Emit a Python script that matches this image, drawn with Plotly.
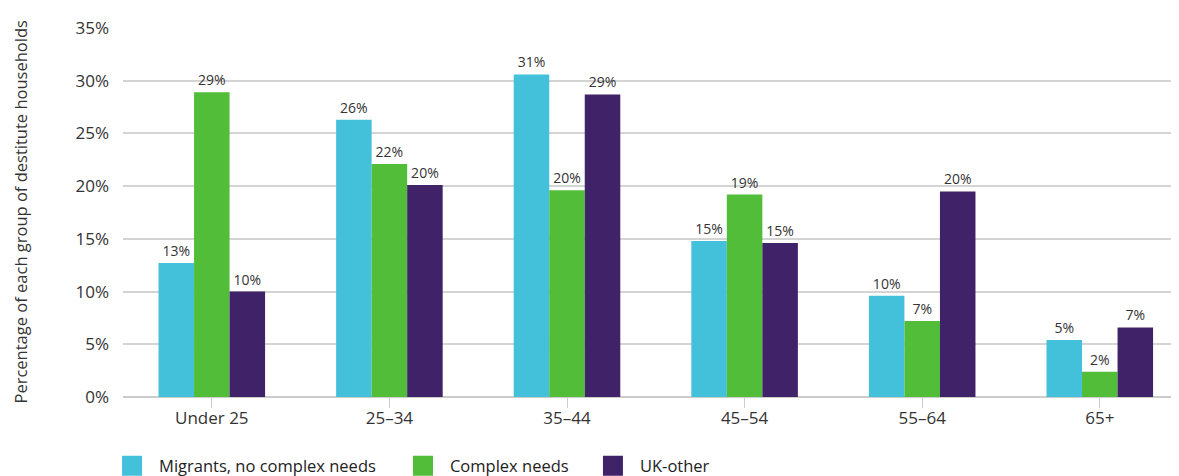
import plotly.graph_objects as go

categories = ["Under 25", "25–34", "35–44", "45–54", "55–64", "65+"]
migrants = [12.7, 26.3, 30.6, 14.8, 9.6, 5.4]
complex_needs = [28.9, 22.1, 19.6, 19.2, 7.2, 2.4]
uk_other = [10.0, 20.1, 28.7, 14.6, 19.5, 6.6]

series = [
    ("Migrants, no complex needs", migrants, "#44C1DA"),
    ("Complex needs", complex_needs, "#52BD39"),
    ("UK-other", uk_other, "#3F2268"),
]

FONT = "'Open Sans', sans-serif"
TXT = "#333333"

# the page body has an 8px margin, so the figure is drawn 8px smaller
W, H = 1171, 468
L, T = 115, 20
PW, PH = 1056, 369

fig = go.Figure()
for name, vals, color in series:
    fig.add_trace(go.Bar(
        x=categories,
        y=[v / 100 for v in vals],
        name=name,
        showlegend=False,
        marker=dict(color=color, line=dict(width=0)),
        texttemplate="%{y:.0%}",
        textposition="outside",
        textfont=dict(size=14, color=TXT, family=FONT),
        cliponaxis=False,
    ))

legend_names = ["legend", "legend2", "legend3"]
legend_x = [-0.017, 0.2585, 0.4384]
for (name, vals, color), lg in zip(series, legend_names):
    fig.add_trace(go.Scatter(
        x=[None], y=[None], mode="markers", name=name, legend=lg,
        marker=dict(symbol="square", size=16, color=color,
                    line=dict(color=color, width=4)),
    ))

legend_common = dict(orientation="h", xanchor="left", y=-0.187, yanchor="middle",
                     font=dict(size=16.5, color="#222222"),
                     itemsizing="trace", itemwidth=44, bgcolor="rgba(0,0,0,0)")

fig.update_layout(
    width=W, height=H,
    margin=dict(l=L, r=W - L - PW, t=T, b=H - T - PH, autoexpand=False),
    paper_bgcolor="white", plot_bgcolor="white",
    barmode="group", bargap=0.4, bargroupgap=0,
    font=dict(family=FONT, size=16, color=TXT),
    showlegend=True,
    legend=dict(x=legend_x[0], **legend_common),
    legend2=dict(x=legend_x[1], **legend_common),
    legend3=dict(x=legend_x[2], **legend_common),
    xaxis=dict(range=[-0.5, 5.446], showgrid=False, showline=False, zeroline=False,
               ticks="outside", ticklen=10, tickcolor="#cccccc", tickwidth=1,
               ticklabelstandoff=-4,
               automargin=False,
               tickfont=dict(size=17, color=TXT)),
    yaxis=dict(range=[0, 0.35], dtick=0.05, tickformat=".0%",
               showgrid=True, gridcolor="#d4d4d4", gridwidth=1.5,
               zeroline=True, zerolinecolor="#cccccc", zerolinewidth=1.5,
               showline=False, ticks="", ticklabelstandoff=13,
               automargin=False,
               tickfont=dict(size=17, color=TXT)),
    annotations=[dict(
        text="Percentage of each group of destitute households",
        xref="paper", yref="paper", x=(20 - 123) / PW, y=0.5,
        xanchor="center", yanchor="middle", textangle=-90, showarrow=False,
        font=dict(size=16.5, color=TXT),
    )],
)

fig.write_html("out.html")
